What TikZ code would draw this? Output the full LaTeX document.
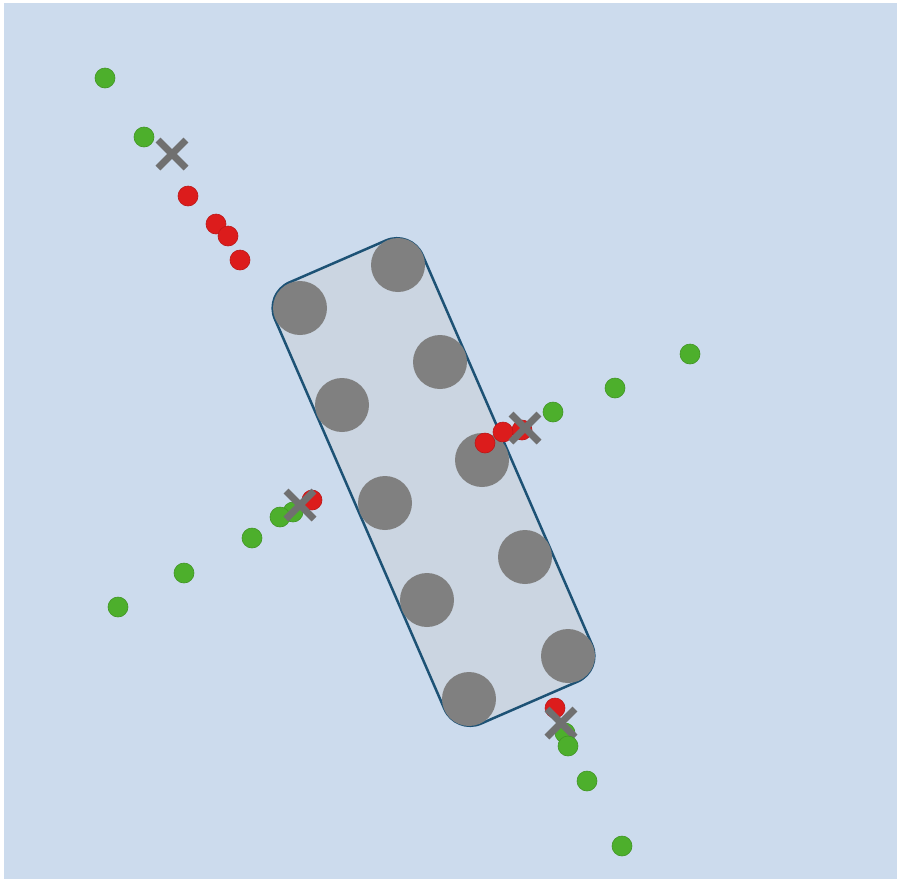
\documentclass[tikz,border=0pt]{standalone}
\usetikzlibrary{shapes.misc}
\definecolor{bgblue}{HTML}{CCDBED}
\definecolor{panel}{HTML}{CBD5E1}
\definecolor{edge}{HTML}{1D5275}
\definecolor{disc}{HTML}{808080}
\definecolor{mark}{HTML}{707070}
\definecolor{gdot}{HTML}{4DAF2C}
\definecolor{rdot}{HTML}{DC1C1C}
\tikzset{
  disk/.style={circle, fill=disc, inner sep=0pt, minimum size=54pt},
  gpt/.style={circle, fill=gdot, draw=gdot!85!black, line width=0.6pt, inner sep=0pt, minimum size=20pt},
  rpt/.style={circle, fill=rdot, draw=rdot!85!black, line width=0.6pt, inner sep=0pt, minimum size=20pt},
  xmark/.style={cross out, draw=mark, line width=7pt, inner sep=0pt, minimum size=21pt},
}
\begin{document}
\begin{tikzpicture}[x=1pt, y=-1pt]
  % canvas
  \fill[white] (0,0) rectangle (898,879);
  \useasboundingbox (0,0) rectangle (898,879);
  \fill[bgblue] (4,3) rectangle (897,879);

  % tilted rounded panel
  \node[draw=edge, fill=panel, line width=2.5pt, rounded corners=28pt,
        minimum width=481pt, minimum height=161pt, inner sep=0pt,
        rotate=-66.5] (panel) at (433.5,482) {};

  % discs, left column
  \node[disk] (d1) at (300,308) {};
  \node[disk] (d2) at (342,405) {};
  \node[disk] (d3) at (385,503) {};
  \node[disk] (d4) at (427,600) {};
  \node[disk] (d5) at (469,699) {};
  % discs, right column
  \node[disk] (d6) at (398,265) {};
  \node[disk] (d7) at (440,362) {};
  \node[disk] (d8) at (482,460) {};
  \node[disk] (d9) at (525,557) {};
  \node[disk] (d10) at (568,656) {};

  % upper-left trail
  \node[gpt] (a1) at (105,78) {};
  \node[gpt] (a2) at (144,137) {};
  \node[rpt] (a3) at (188,196) {};
  \node[rpt] (a4) at (216,224) {};
  \node[rpt] (a5) at (228,236) {};
  \node[rpt] (a6) at (240,260) {};
  \node[xmark] (ax) at (172,154) {};

  % right trail
  \node[gpt] (b1) at (690,354) {};
  \node[gpt] (b2) at (615,388) {};
  \node[gpt] (b3) at (553,412) {};
  \node[rpt] (b4) at (522,430) {};
  \node[rpt] (b5) at (485,443) {};
  \node[rpt] (b6) at (503,432) {};
  \node[xmark] (bx) at (525,428) {};

  % left trail
  \node[gpt] (c1) at (118,607) {};
  \node[gpt] (c2) at (184,573) {};
  \node[gpt] (c3) at (252,538) {};
  \node[gpt] (c4) at (293,512) {};
  \node[gpt] (c5) at (280,517) {};
  \node[rpt] (c6) at (312,500) {};
  \node[xmark] (cx) at (300,505) {};

  % lower trail
  \node[gpt] (e1) at (622,846) {};
  \node[gpt] (e2) at (587,781) {};
  \node[rpt] (e3) at (555,708) {};
  \node[gpt] (e4) at (565,733) {};
  \node[xmark] (ex) at (561,723) {};
  \node[gpt] (e5) at (568,746) {};
\end{tikzpicture}
\end{document}
